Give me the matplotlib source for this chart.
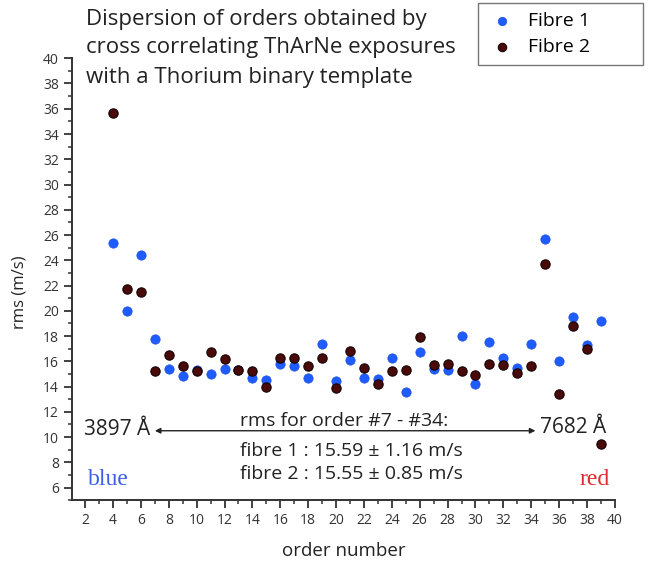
import matplotlib
matplotlib.use("Agg")
import matplotlib.pyplot as plt
from matplotlib.ticker import MultipleLocator

# Data
orders = [4, 5, 6, 7, 8, 9, 10, 11, 12, 13, 14, 15, 16, 17, 18, 19, 20, 21,
          22, 23, 24, 25, 26, 27, 28, 29, 30, 31, 32, 33, 34, 35, 36, 37, 38, 39]
fibre1 = [25.4, 20.0, 24.4, 17.8, 15.4, 14.8, 15.3, 15.0, 15.4, 15.3, 14.7, 14.5,
          15.8, 15.6, 14.7, 17.4, 14.4, 16.1, 14.7, 14.6, 16.3, 13.6, 16.7, 15.4,
          15.3, 18.0, 14.2, 17.5, 16.3, 15.5, 17.4, 25.7, 16.0, 19.5, 17.3, 19.2]
fibre2 = [35.7, 21.75, 21.5, 15.2, 16.5, 15.6, 15.2, 16.7, 16.2, 15.3, 15.2, 14.0,
          16.3, 16.3, 15.6, 16.3, 13.9, 16.8, 15.5, 14.2, 15.2, 15.3, 17.9, 15.7,
          15.8, 15.2, 14.9, 15.8, 15.7, 15.1, 15.6, 23.7, 13.4, 18.8, 17.0, 9.45]
series_labels = ["Fibre 1", "Fibre 2"]
title_lines = ["Dispersion of orders obtained by",
               "cross correlating ThArNe exposures",
               "with a Thorium binary template"]
stats_lines = ["rms for order #7 - #34:",
               "fibre 1 : 15.59 \u00b1 1.16 m/s",
               "fibre 2 : 15.55 \u00b1 0.85 m/s"]
wl_blue = "3897 \u00c5"
wl_red = "7682 \u00c5"

plt.rcParams["font.family"] = ["Open Sans", "DejaVu Sans"]

fig = plt.figure(figsize=(6.5, 5.71), dpi=100)
ax = fig.add_axes([0.111, 0.124, 0.835, 0.774])

ax.scatter(orders, fibre1, s=45, color="#1f5cff", edgecolors="#1a4fe0",
           linewidths=0.5, label=series_labels[0], zorder=3)
ax.scatter(orders, fibre2, s=45, color="#4a0a0a", edgecolors="#140303",
           linewidths=0.8, label=series_labels[1], zorder=4)

ax.set_xlim(1.07, 40)
ax.set_ylim(5, 40)
ax.xaxis.set_minor_locator(MultipleLocator(1))
ax.yaxis.set_minor_locator(MultipleLocator(1))
ax.set_xticks(range(2, 41, 2))
ax.set_yticks(range(6, 41, 2))
ax.tick_params(axis="both", which="major", length=6, width=1.3, labelsize=10,
               labelcolor="#333333", color="#333333")
ax.tick_params(axis="both", which="minor", length=3, width=1.1, color="#333333")
for side in ["top", "right"]:
    ax.spines[side].set_visible(False)
for side in ["left", "bottom"]:
    ax.spines[side].set_linewidth(1.4)
    ax.spines[side].set_color("#333333")

ax.set_xlabel("order number", fontsize=13.5, color="#222222", labelpad=10)
ax.set_ylabel("rms (m/s)", fontsize=12, color="#222222")
ax.yaxis.set_label_coords(-0.083, 0.47)

# Title block inside the figure
for i, line in enumerate(title_lines):
    fig.text(86 / 650, 1 - (19 + 29 * i) / 571, line, fontsize=16,
             color="#222222", ha="left", va="center")

leg = ax.legend(loc="upper left", mode="expand",
                bbox_to_anchor=(478 / 650, 1 - 68 / 571, 165 / 650, 65 / 571),
                bbox_transform=fig.transFigure, frameon=True, fancybox=False,
                edgecolor="#555555", fontsize=14, handletextpad=0.5,
                handlelength=1.6, labelspacing=0.45, borderpad=0.45,
                borderaxespad=0, markerscale=0.9)
leg.get_frame().set_linewidth(1.0)

# Wavelength arrow and statistics
ax.annotate("", xy=(7.0, 10.5), xytext=(34.3, 10.5),
            arrowprops=dict(arrowstyle="<|-|>", color="#222222", lw=1.0,
                            mutation_scale=8, shrinkA=0, shrinkB=0))
ax.text(6.7, 10.6, wl_blue, fontsize=15, color="#222222", ha="right", va="center")
ax.text(34.6, 10.75, wl_red, fontsize=15, color="#222222", ha="left", va="center")
ax.text(13.1, 10.55, stats_lines[0], fontsize=14, color="#222222", ha="left",
        va="bottom")
ax.text(13.1, 8.9, stats_lines[1], fontsize=14, color="#222222", ha="left", va="center")
ax.text(13.1, 7.05, stats_lines[2], fontsize=14, color="#222222", ha="left", va="center")

ax.text(2.2, 6.6, "blue", fontsize=17, color="#3a5fe8", ha="left", va="center",
        family=["Liberation Serif", "DejaVu Serif"])
ax.text(39.6, 6.6, "red", fontsize=17, color="#dd2a2a", ha="right", va="center",
        family=["Liberation Serif", "DejaVu Serif"])

fig.savefig("out.png", dpi=100)
